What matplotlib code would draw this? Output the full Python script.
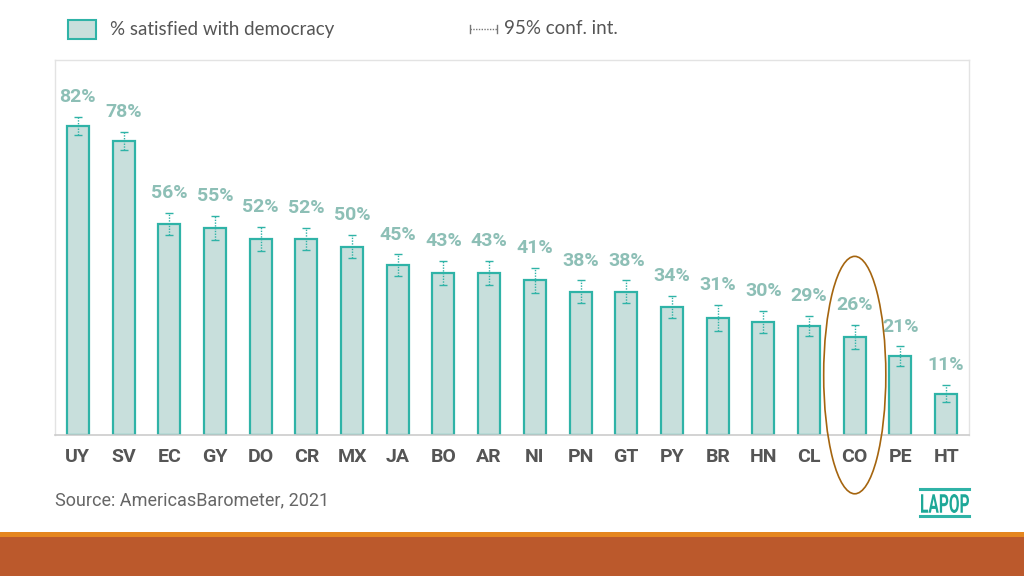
import matplotlib as mpl
import matplotlib.pyplot as plt
from matplotlib.patches import Rectangle, Ellipse, PathPatch
from matplotlib.lines import Line2D
from matplotlib.textpath import TextPath
from matplotlib.font_manager import FontProperties
from matplotlib.transforms import Affine2D, IdentityTransform

mpl.rcParams['font.family'] = ['Lato', 'DejaVu Sans']

countries = ['UY', 'SV', 'EC', 'GY', 'DO', 'CR', 'MX', 'JA', 'BO', 'AR',
             'NI', 'PN', 'GT', 'PY', 'BR', 'HN', 'CL', 'CO', 'PE', 'HT']
satisfied = [82, 78, 56, 55, 52, 52, 50, 45, 43, 43,
             41, 38, 38, 34, 31, 30, 29, 26, 21, 11]
ci_half = [2.4, 2.5, 2.9, 3.2, 3.3, 3.0, 3.1, 2.9, 3.2, 3.3,
           3.4, 3.0, 3.1, 3.0, 3.5, 2.9, 2.7, 3.2, 2.6, 2.3]
labels = ['{}%'.format(v) for v in satisfied]

teal = '#2fb3a7'
fill = '#c8dfdc'
lab_col = '#8dbfb6'
grey_txt = '#555555'

fig = plt.figure(figsize=(10.24, 5.76), dpi=100)
ax = fig.add_axes([55/1024, 1-435/576, 914/1024, 375/576])

x = list(range(len(countries)))
ax.bar(x, satisfied, width=0.48, color=fill, edgecolor=teal, linewidth=1.6, zorder=2)
eb = ax.errorbar(x, satisfied, yerr=ci_half, fmt='none', ecolor=teal,
                 elinewidth=1.0, capsize=3, capthick=1.0, zorder=3)
eb[2][0].set_linestyle((0, (1, 1)))

for xi, v, c, t in zip(x, satisfied, ci_half, labels):
    ax.text(xi, v + c + 2.8, t, ha='center', va='bottom', fontsize=14,
            fontweight='bold', color=lab_col, family='Roboto')

ax.set_xlim(-0.5, len(countries) - 0.5)
ax.set_ylim(0, 99.5)
ax.set_yticks([])
ax.set_xticks(x)
ax.set_xticklabels(countries, fontsize=14, fontweight='bold', color=grey_txt,
                   family='Roboto')
ax.tick_params(axis='x', length=0, pad=9)
for s in ['left', 'top', 'right']:
    ax.spines[s].set_color('#e3e3e3')
    ax.spines[s].set_linewidth(1.0)
ax.spines['bottom'].set_color('#cccccc')
ax.spines['bottom'].set_linewidth(1.2)

# highlight CO
co = countries.index('CO')
ax.add_patch(Ellipse((co, 15.9), 1.36, 63, fill=False, edgecolor='#a5650f',
                     linewidth=1.2, clip_on=False, zorder=4))

# legend
W, H = 1024, 576
fig.add_artist(Rectangle((68/W, 1-39/H), 28/W, 19/H, transform=fig.transFigure,
                         facecolor=fill, edgecolor=teal, linewidth=1.5))
fig.text(110/W, 1-30/H, '% satisfied with democracy', fontsize=13.5, color=grey_txt,
         va='center', ha='left')
fig.add_artist(Line2D([470/W, 497/W], [1-29/H, 1-29/H], transform=fig.transFigure,
                      color='#777777', linewidth=1.0, linestyle=(0, (1, 1))))
for xx in [470, 497]:
    fig.add_artist(Line2D([xx/W, xx/W], [1-25/H, 1-33/H], transform=fig.transFigure,
                          color='#777777', linewidth=1.0))
fig.text(504/W, 1-29/H, '95% conf. int.', fontsize=13.5, color=grey_txt,
         va='center', ha='left')

# source and logo
fig.text(55/W, 1-500/H, 'Source: AmericasBarometer, 2021', fontsize=13,
         color='#666666', va='center', ha='left', family='Roboto')
fig.add_artist(Line2D([920/W, 969/W], [1-489/H, 1-489/H], transform=fig.transFigure,
                      color=teal, linewidth=2.2))
fig.add_artist(Line2D([920/W, 969/W], [1-516/H, 1-516/H], transform=fig.transFigure,
                      color=teal, linewidth=2.2))
tp = TextPath((0, 0), 'LAPOP', size=20, prop=FontProperties(family='Roboto', weight='bold'))
bb = tp.get_extents()
sx = 48 / bb.width
sy = 19 / bb.height
tr = Affine2D().translate(-bb.x0, -bb.y0).scale(sx, sy).translate(921, H - 513)
fig.add_artist(PathPatch(tr.transform_path(tp), transform=IdentityTransform(),
                         facecolor='#1ea898', edgecolor='none'))

# bottom band
fig.add_artist(Rectangle((0, 0), 1, 39/H, transform=fig.transFigure,
                         facecolor='#bb592c', edgecolor='none'))
fig.add_artist(Rectangle((0, 39/H), 1, 5/H, transform=fig.transFigure,
                         facecolor='#e5861f', edgecolor='none'))

fig.savefig('out.png', dpi=100)
